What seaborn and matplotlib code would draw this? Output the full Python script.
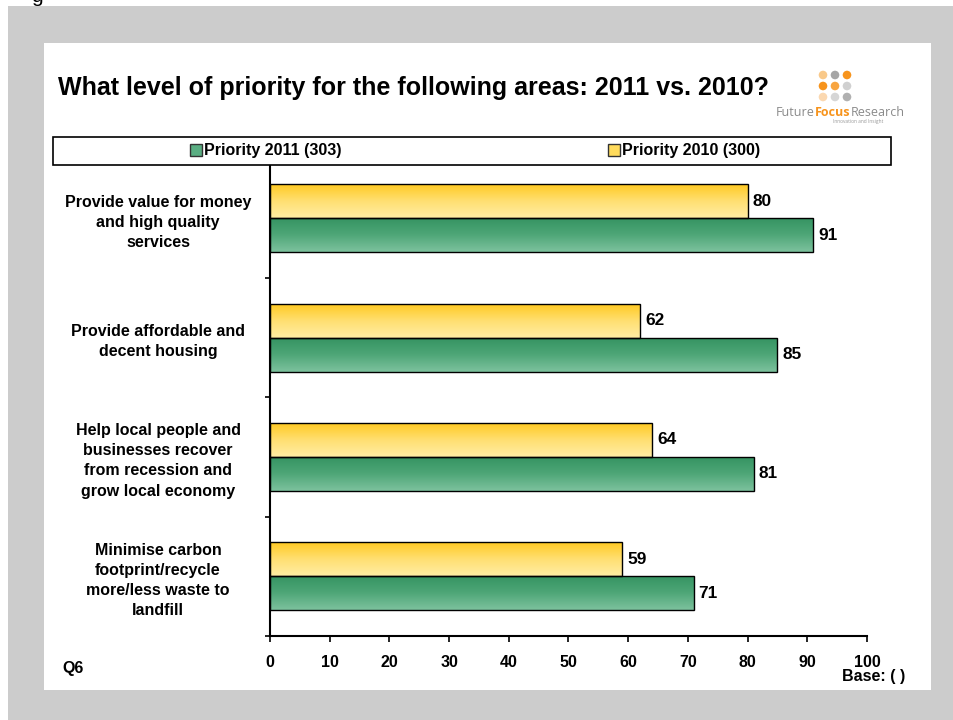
import numpy as np
import pandas as pd
import matplotlib
matplotlib.use("Agg")
import matplotlib.pyplot as plt
from matplotlib.patches import Rectangle, Patch, Circle
from matplotlib.colors import LinearSegmentedColormap
import seaborn as sns

# ---- data -------------------------------------------------------------
areas = [
    "Provide value for money\nand high quality\nservices",
    "Provide affordable and\ndecent housing",
    "Help local people and\nbusinesses recover\nfrom recession and\ngrow local economy",
    "Minimise carbon\nfootprint/recycle\nmore/less waste to\nlandfill",
]
priority_2011 = [91, 85, 81, 71]
priority_2010 = [80, 62, 64, 59]
series_2011 = "Priority 2011 (303)"
series_2010 = "Priority 2010 (300)"
x_ticks = [0, 10, 20, 30, 40, 50, 60, 70, 80, 90, 100]
title = "What level of priority for the following areas: 2011 vs. 2010?"

# ---- style ------------------------------------------------------------
sns.set_theme(style="white")
plt.rcParams["font.family"] = ["Liberation Sans", "DejaVu Sans"]
plt.rcParams.update({
    "text.color": "black",
    "axes.labelcolor": "black",
    "xtick.color": "black",
    "ytick.color": "black",
})

df = pd.DataFrame({
    "area": areas * 2,
    "value": priority_2010 + priority_2011,
    "series": [series_2010] * len(areas) + [series_2011] * len(areas),
})

W, H = 954, 720
fig = plt.figure(figsize=(W / 100, H / 100), dpi=100)
fig.patch.set_facecolor("white")


def fx(x):
    return x / W


def fy(y):
    return 1 - y / H


# grey backdrop and white card
fig.add_artist(Rectangle((fx(8), 0), 1 - fx(8), fy(6), transform=fig.transFigure,
                         facecolor="#cccccc", edgecolor="none", zorder=-10))
fig.add_artist(Rectangle((fx(44), fy(690)), fx(931) - fx(44), fy(43) - fy(690),
                         transform=fig.transFigure, facecolor="white",
                         edgecolor="none", zorder=-9))
fig.text(fx(37), fy(1.5), "g", ha="center", va="baseline", fontsize=15)

ax = fig.add_axes([fx(270), fy(636), fx(867) - fx(270), fy(158.5) - fy(636)])
ax.set_facecolor("none")

sns.barplot(data=df, x="value", y="area", hue="series", order=areas,
            hue_order=[series_2010, series_2011],
            palette=["#ffdb5c", "#5aae82"], width=0.57,
            edgecolor="black", linewidth=1.0, legend=False, ax=ax)

# vertical gradient fill inside each bar
gradients = [
    LinearSegmentedColormap.from_list("gold", ["#ffc81e", "#ffdf70", "#ffeda4"]),
    LinearSegmentedColormap.from_list("jade", ["#349361", "#4ea677", "#7dc29e"]),
]
ramp = np.linspace(0, 1, 128).reshape(-1, 1)
for cmap, cont in zip(gradients, ax.containers):
    for bar in cont:
        x0, y0 = bar.get_x(), bar.get_y()
        w, h = bar.get_width(), bar.get_height()
        im = ax.imshow(ramp, cmap=cmap, extent=(x0, x0 + w, y0 + h, y0),
                       origin="upper", aspect="auto", zorder=0.9,
                       interpolation="bilinear")
        im.set_clip_path(bar)
        bar.set_facecolor("none")
        bar.set_zorder(1)
    ax.bar_label(cont, fmt="%d", padding=3.5, fontsize=12.4, fontweight="bold",
                 color="black")

ax.set_xlim(0, 100)
ax.set_ylim(len(areas) - 0.5, -0.5)
ax.set_xlabel("")
ax.set_ylabel("")

for side in ("top", "right"):
    ax.spines[side].set_visible(False)
for side in ("left", "bottom"):
    ax.spines[side].set_color("black")
    ax.spines[side].set_linewidth(1.5)

ax.set_xticks(x_ticks)
ax.set_xticklabels([str(t) for t in x_ticks], fontsize=11.5, fontweight="bold")
ax.tick_params(axis="x", bottom=True, length=4, width=1.2, pad=10,
               color="black", direction="out")

ax.set_yticks(range(len(areas)))
ax.set_yticklabels(areas, fontsize=11.5, fontweight="bold", ha="center",
                   multialignment="center", linespacing=1.42)
ax.tick_params(axis="y", which="major", left=False, length=0, pad=80.6)
ax.set_yticks([i + 0.5 for i in range(len(areas))], minor=True)
ax.tick_params(axis="y", which="minor", left=True, length=3.5, width=1.2,
               color="black", direction="out")

# legend strip
fig.add_artist(Rectangle((fx(53), fy(165)), fx(891) - fx(53), fy(137) - fy(165),
                         transform=fig.transFigure, facecolor="white",
                         edgecolor="black", linewidth=1.2, zorder=5))
for label, color, cx in [(series_2011, "#5aae82", 266), (series_2010, "#ffdb5c", 684)]:
    leg = fig.legend(handles=[Patch(facecolor=color, edgecolor="#333333", linewidth=1)],
                     labels=[label], loc="center", bbox_to_anchor=(fx(cx), fy(151)),
                     frameon=False, prop={"size": 11.5, "weight": "bold"},
                     handlelength=0.75, handleheight=0.75, handletextpad=0.15,
                     borderpad=0, borderaxespad=0)
    leg.set_zorder(6)

# headings and footers
fig.text(fx(58), fy(88), title, ha="left", va="center", fontsize=18,
         fontweight="bold")
fig.text(fx(62), fy(669), "Q6", ha="left", va="center", fontsize=11.5,
         fontweight="bold")
fig.text(fx(905), fy(677), "Base: ( )", ha="right", va="center", fontsize=11.5,
         fontweight="bold")

# brand mark
dot_cols = [823, 835, 847]
dot_rows = [75, 86, 97]
dot_colors = [["#f9c98a", "#a6a6a6", "#f7941d"],
              ["#f7941d", "#f8a540", "#d0d0d0"],
              ["#fbd8b0", "#d6d6d6", "#b0b0b0"]]
for r, yy in enumerate(dot_rows):
    for c, xx in enumerate(dot_cols):
        fig.add_artist(Circle((xx, H - yy), 4.3, transform=None,
                              facecolor=dot_colors[r][c], edgecolor="none",
                              zorder=3))

renderer = fig.canvas.get_renderer()
t1 = fig.text(fx(776), fy(112), "Future", ha="left", va="center", fontsize=9,
              color="#8a8a8a", family="Open Sans")
x_cur = t1.get_window_extent(renderer).x1
t2 = fig.text(x_cur / W, fy(112), "Focus", ha="left", va="center", fontsize=9,
              color="#f7941d", fontweight="bold", family="Open Sans")
x_cur = t2.get_window_extent(renderer).x1
fig.text(x_cur / W, fy(112), "Research", ha="left", va="center", fontsize=9,
         color="#8a8a8a", family="Open Sans")
fig.text(fx(858), fy(122), "Innovation and Insight", ha="center", va="center",
         fontsize=3.5, color="#999999", family="Open Sans")

fig.savefig("out.png", dpi=100, facecolor=fig.get_facecolor())
